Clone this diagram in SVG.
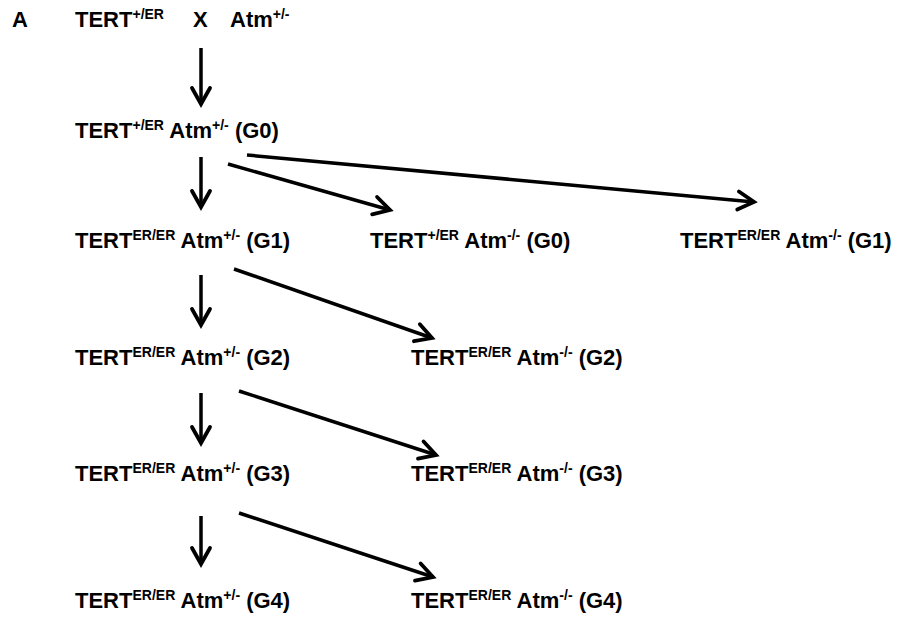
<svg xmlns="http://www.w3.org/2000/svg" width="899" height="621" viewBox="0 0 899 621">
<style>
text{font-family:"Liberation Sans",Arial,sans-serif;font-weight:bold;font-size:22px;fill:#000}
.s{font-size:14px}
.c{stroke:#000;stroke-width:3.5;fill:none;stroke-linecap:butt}
</style>
<defs>
<marker id="ah" viewBox="-20 -12 24 24" refX="0" refY="0" markerWidth="24" markerHeight="24" markerUnits="userSpaceOnUse" orient="auto">
<path d="M-16,-9 L0,0 L-16,9" fill="none" stroke="#000" stroke-width="3.8" stroke-linecap="round" stroke-linejoin="miter"/>
</marker>
</defs>
<rect width="899" height="621" fill="#fff"/>
<g id="label-A"><text x="12" y="27">A</text></g>
<g id="cross">
<text x="75" y="27">TERT<tspan class="s" dy="-8">+/ER</tspan></text>
<text x="193" y="27">X</text>
<text x="230" y="27">Atm<tspan class="s" dy="-8">+/-</tspan></text>
</g>
<g id="g0"><text x="75" y="138">TERT<tspan class="s" dy="-8">+/ER</tspan><tspan dy="8"> Atm</tspan><tspan class="s" dy="-8">+/-</tspan><tspan dy="8"> (G0)</tspan></text></g>
<g id="g1"><text x="75" y="248">TERT<tspan class="s" dy="-8">ER/ER</tspan><tspan dy="8"> Atm</tspan><tspan class="s" dy="-8">+/-</tspan><tspan dy="8"> (G1)</tspan></text></g>
<g id="g0ko"><text x="370" y="248">TERT<tspan class="s" dy="-8">+/ER</tspan><tspan dy="8"> Atm</tspan><tspan class="s" dy="-8">-/-</tspan><tspan dy="8"> (G0)</tspan></text></g>
<g id="g1ko"><text x="680" y="248">TERT<tspan class="s" dy="-8">ER/ER</tspan><tspan dy="8"> Atm</tspan><tspan class="s" dy="-8">-/-</tspan><tspan dy="8"> (G1)</tspan></text></g>
<g id="g2"><text x="75" y="365">TERT<tspan class="s" dy="-8">ER/ER</tspan><tspan dy="8"> Atm</tspan><tspan class="s" dy="-8">+/-</tspan><tspan dy="8"> (G2)</tspan></text></g>
<g id="g2ko"><text x="411" y="365">TERT<tspan class="s" dy="-8">ER/ER</tspan><tspan dy="8"> Atm</tspan><tspan class="s" dy="-8">-/-</tspan><tspan dy="8"> (G2)</tspan></text></g>
<g id="g3"><text x="75" y="481">TERT<tspan class="s" dy="-8">ER/ER</tspan><tspan dy="8"> Atm</tspan><tspan class="s" dy="-8">+/-</tspan><tspan dy="8"> (G3)</tspan></text></g>
<g id="g3ko"><text x="411" y="481">TERT<tspan class="s" dy="-8">ER/ER</tspan><tspan dy="8"> Atm</tspan><tspan class="s" dy="-8">-/-</tspan><tspan dy="8"> (G3)</tspan></text></g>
<g id="g4"><text x="75" y="608">TERT<tspan class="s" dy="-8">ER/ER</tspan><tspan dy="8"> Atm</tspan><tspan class="s" dy="-8">+/-</tspan><tspan dy="8"> (G4)</tspan></text></g>
<g id="g4ko"><text x="411" y="608">TERT<tspan class="s" dy="-8">ER/ER</tspan><tspan dy="8"> Atm</tspan><tspan class="s" dy="-8">-/-</tspan><tspan dy="8"> (G4)</tspan></text></g>
<g id="connectors">
<line class="c" x1="201" y1="48" x2="201" y2="104" marker-end="url(#ah)"/>
<line class="c" x1="201" y1="157" x2="201" y2="207" marker-end="url(#ah)"/>
<line class="c" x1="228" y1="164" x2="390" y2="210" marker-end="url(#ah)"/>
<line class="c" x1="247" y1="155" x2="754" y2="202" marker-end="url(#ah)"/>
<line class="c" x1="201" y1="275" x2="201" y2="325" marker-end="url(#ah)"/>
<line class="c" x1="234" y1="269" x2="432" y2="338" marker-end="url(#ah)"/>
<line class="c" x1="201" y1="393" x2="201" y2="443" marker-end="url(#ah)"/>
<line class="c" x1="239" y1="391" x2="436" y2="455" marker-end="url(#ah)"/>
<line class="c" x1="201" y1="516" x2="201" y2="564" marker-end="url(#ah)"/>
<line class="c" x1="239" y1="513" x2="433" y2="577" marker-end="url(#ah)"/>
</g>
</svg>
